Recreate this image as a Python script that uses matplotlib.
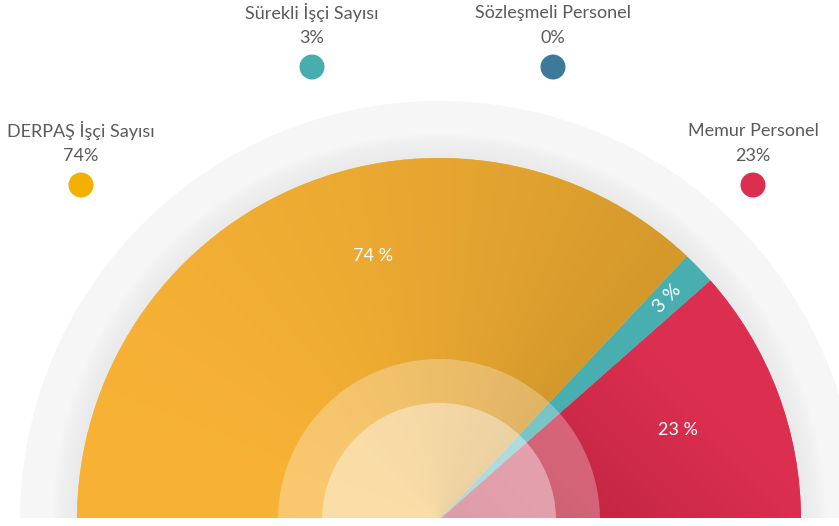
import numpy as np
import matplotlib
matplotlib.use("Agg")
import matplotlib.pyplot as plt
from matplotlib.patches import Wedge, Circle
from matplotlib.colors import to_rgb

# Data
categories = ["DERPAŞ İşçi Sayısı", "Sürekli İşçi Sayısı", "Sözleşmeli Personel", "Memur Personel"]
values = [74, 3, 0, 23]
colors = ["#f7b035", "#48aeb0", "#3c7a9a", "#dc2f50"]
legend_colors = ["#f3b000", "#48adaf", "#3c7a9a", "#dc2f50"]

W, H = 839, 526
fig = plt.figure(figsize=(W / 100, H / 100), dpi=100)
ax = fig.add_axes([0, 8 / H, 1, 518 / H])
ax.set_xlim(0, W)
ax.set_ylim(0, 518)
ax.set_aspect("auto")
ax.axis("off")

cx, cy = 439, -2
R = 362
R_bg = 419

# background ring with soft shadow near the slices
ax.add_patch(Wedge((cx, cy), R_bg, 0, 180, fc="#f6f6f6", ec="none", zorder=0))
for r in np.linspace(R + 24, R, 10):
    ax.add_patch(Wedge((cx, cy), r, 0, 180, fc="#d5d5d6", ec="none", alpha=0.035, zorder=0))

# gradient field for shading
gx, gy = np.meshgrid(np.linspace(0, W, 420), np.linspace(0, 518, 260))
ang = np.degrees(np.arctan2(gy - cy, gx - cx))
ypx = 518 - gy


def shade(c1, c2, t):
    a, b = np.array(to_rgb(c1)), np.array(to_rgb(c2))
    return a + (b - a) * t[..., None]


total = sum(values)
start = 180.0
wedges = []
for name, v, c in zip(categories, values, colors):
    span = 180.0 * v / total
    if span <= 0:
        wedges.append((start, start))
        continue
    wdg = Wedge((cx, cy), R, start - span, start, fc=c, ec="none", zorder=1)
    ax.add_patch(wdg)
    wedges.append((start - span, start))
    if name.startswith("DERPAŞ"):
        t = np.clip((180 - ang) / span, 0, 1) ** 1.8 * 0.9
        img = ax.imshow(shade("#f8b336", "#d0952a", t), extent=(0, W, 0, 518),
                        origin="lower", zorder=1.2, aspect="auto", interpolation="bilinear")
        img.set_clip_path(wdg)
    elif name.startswith("Memur"):
        s = gx - ypx
        t = np.clip((300 - s) / 360, 0, 1)
        img = ax.imshow(shade("#dc2f50", "#b3223b", t), extent=(0, W, 0, 518),
                        origin="lower", zorder=1.2, aspect="auto", interpolation="bilinear")
        img.set_clip_path(wdg)
    start -= span

# translucent inner circles
ax.add_patch(Wedge((cx, cy), 161, 0, 180, fc="white", ec="none", alpha=0.28, zorder=2))
ax.add_patch(Wedge((cx, cy), 117, 0, 180, fc="white", ec="none", alpha=0.40, zorder=2))

# slice labels
font = ["Lato", "DejaVu Sans"]
label_pos = {0: (104, 272), 1: (None, 318), 3: (None, 255)}
for i, (v, (a0, a1)) in enumerate(zip(values, wedges)):
    if v == 0:
        continue
    mid = (a0 + a1) / 2
    a, r = label_pos[i]
    a = mid if a is None else a
    x = cx + r * np.cos(np.radians(a))
    y = cy + r * np.sin(np.radians(a))
    small = v < 5
    ax.text(x, y, f"{v} %", color="white", fontsize=14 if small else 13,
            ha="center", va="center", rotation=mid + 2 if small else 0,
            family=font, zorder=3)

# legend markers around the top
legend_xy = [(81, 185), (312, 67), (553, 67), (753, 185)]
for name, v, c, (lx, ly) in zip(categories, values, legend_colors, legend_xy):
    y = 518 - ly
    ax.add_patch(Circle((lx, y), 12.5, fc=c, ec="none", zorder=3))
    ax.text(lx, y + 29, f"{v}%", ha="center", va="center", fontsize=13,
            color="#5a5a5a", family=font, zorder=3)
    ax.text(lx, y + 54, name, ha="center", va="center", fontsize=13,
            color="#5a5a5a", family=font, zorder=3)

fig.savefig("out.png", dpi=100)
